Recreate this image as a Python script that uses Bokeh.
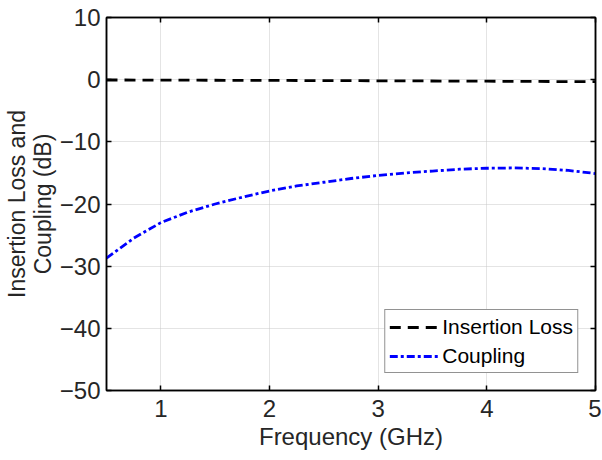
from bokeh.plotting import figure
from bokeh.models import LinearAxis, FixedTicker, CustomJSTickFormatter, Range1d, Legend, LegendItem
from bokeh.embed import file_html
from bokeh.resources import INLINE

freq = [0.5, 0.75, 1.0, 1.25, 1.5, 1.75, 2.0, 2.25, 2.5, 2.75, 3.0, 3.25, 3.5,
        3.75, 4.0, 4.25, 4.5, 4.75, 5.0]
coupling = [-28.7, -25.5, -23.0, -21.3, -20.0, -18.9, -17.9, -17.1, -16.5, -15.9,
            -15.4, -15.0, -14.7, -14.4, -14.25, -14.2, -14.3, -14.6, -15.1]
loss_freq = [0.5, 1.0, 2.0, 3.0, 4.0, 5.0]
insertion_loss = [-0.05, -0.07, -0.12, -0.18, -0.25, -0.33]
x_ticks = [1, 2, 3, 4, 5]
y_ticks = [10, 0, -10, -20, -30, -40, -50]

FONT = "Liberation Sans"

p = figure(frame_width=489, frame_height=373, output_backend="svg", toolbar_location=None,
           x_range=Range1d(0.5, 5), y_range=Range1d(-50, 10),
           min_border_left=99, min_border_right=6, min_border_top=17, min_border_bottom=10)
p.outline_line_color = "black"
p.outline_line_width = 1.5
p.background_fill_color = "white"
p.border_fill_color = "white"

for ax in (p.xaxis[0], p.yaxis[0]):
    ax.major_tick_in = 5
    ax.major_tick_out = 0
    ax.minor_tick_in = 0
    ax.minor_tick_out = 0
    ax.axis_line_color = "black"
    ax.axis_line_width = 1.5
    ax.major_tick_line_color = "black"
    ax.major_tick_line_width = 1.5
    ax.major_label_text_font = FONT
    ax.major_label_text_font_size = "24px"
    ax.major_label_text_color = "#262626"
    ax.axis_label_text_font = FONT
    ax.axis_label_text_font_style = "normal"
    ax.axis_label_text_color = "#262626"

p.xaxis[0].ticker = FixedTicker(ticks=x_ticks)
p.yaxis[0].ticker = FixedTicker(ticks=y_ticks)
p.xaxis[0].axis_label = "Frequency (GHz)"
p.xaxis[0].axis_label_text_font_size = "24px"
p.xaxis[0].major_label_standoff = 9
p.xaxis[0].axis_label_standoff = 3
p.yaxis[0].axis_label = "Insertion Loss and\nCoupling (dB)"
p.yaxis[0].axis_label_text_font_size = "23px"
p.yaxis[0].axis_label_text_line_height = 1.0
p.yaxis[0].major_label_standoff = 6
p.yaxis[0].axis_label_standoff = 1

empty = CustomJSTickFormatter(code="return ''")
right = LinearAxis(ticker=FixedTicker(ticks=y_ticks), formatter=empty,
                   major_tick_in=5, major_tick_out=0, minor_tick_in=0, minor_tick_out=0,
                   major_label_standoff=0, major_label_text_font_size="0px",
                   axis_line_color="black", axis_line_width=1.5,
                   major_tick_line_width=1.5)
top = LinearAxis(ticker=FixedTicker(ticks=x_ticks), formatter=empty,
                 major_tick_in=5, major_tick_out=0, minor_tick_in=0, minor_tick_out=0,
                 major_label_standoff=0, major_label_text_font_size="0px",
                 axis_line_color="black", axis_line_width=1.5,
                 major_tick_line_width=1.5)
p.add_layout(right, "right")
p.add_layout(top, "above")

for g in (p.xgrid[0], p.ygrid[0]):
    g.grid_line_color = "#c8c8c8"
    g.grid_line_dash = "1 1"
    g.grid_line_width = 1
p.xgrid[0].ticker = FixedTicker(ticks=x_ticks)
p.ygrid[0].ticker = FixedTicker(ticks=y_ticks)

r1 = p.line(loss_freq, insertion_loss, line_color="black", line_width=2.8, line_dash="11 7")
r2 = p.line(freq, coupling, line_color="#0000ff", line_width=2.8, line_dash="8 3 3 3")

legend = Legend(items=[LegendItem(label="Insertion Loss", renderers=[r1]),
                       LegendItem(label="Coupling", renderers=[r2])])
legend.location = "bottom_right"
legend.margin = 17
legend.padding = 4
legend.spacing = 4
legend.label_height = 25
legend.glyph_width = 50
legend.glyph_height = 20
legend.label_standoff = 3
legend.label_text_font = FONT
legend.label_text_font_size = "21px"
legend.label_text_color = "black"
legend.border_line_color = "#262626"
legend.border_line_width = 1
legend.background_fill_color = "white"
legend.background_fill_alpha = 1
p.add_layout(legend, "center")

open("out.html", "w").write(file_html(p, INLINE))
